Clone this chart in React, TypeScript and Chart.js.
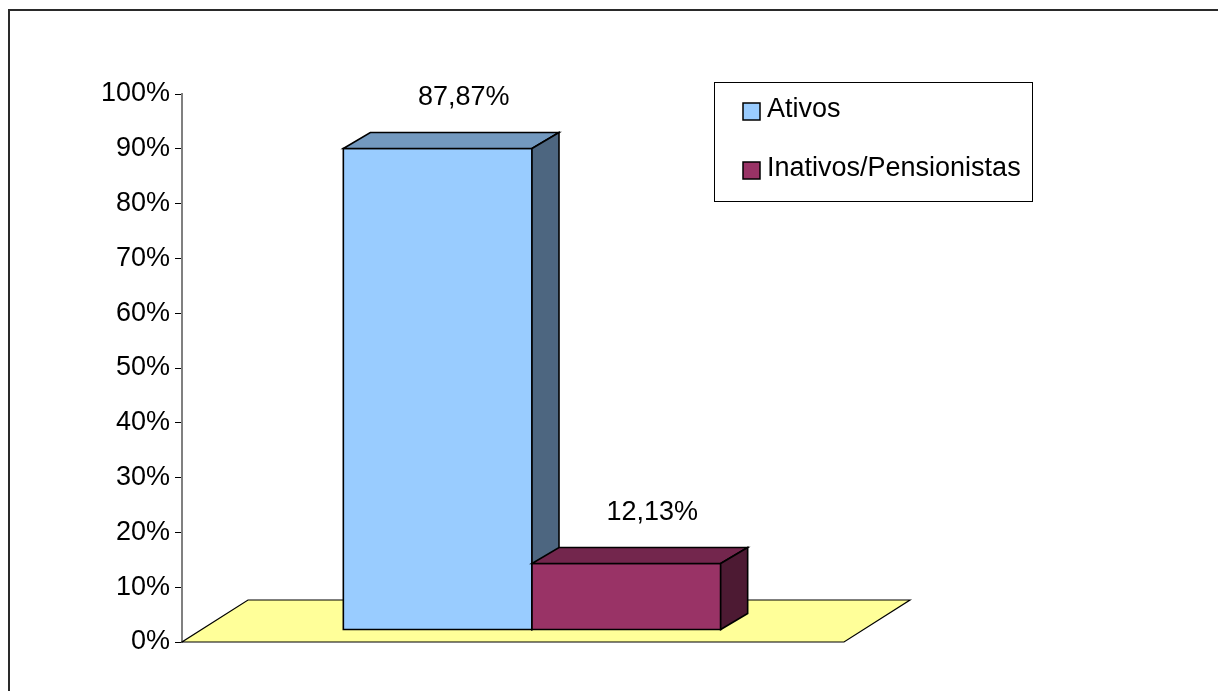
import React, { useEffect, useRef } from "react";
import { Chart, registerables } from "chart.js";

Chart.register(...registerables);

// ---- data ----
const categories: string[] = [""];
const seriesLabels: string[] = ["Ativos", "Inativos/Pensionistas"];
const ativosValues: number[] = [87.87];
const inativosValues: number[] = [12.13];
const seriesColors: string[] = ["#99CCFF", "#993366"];
const yMin = 0;
const yMax = 100;
const yStep = 10;

// ---- layout / style constants ----
const W = 1210;
const H = 683;
const FONT = '"Liberation Sans", Arial, Helvetica, sans-serif';
const FONT_SIZE = 27;
const FLOOR_DX = 66;
const FLOOR_DY = -42;
const BAR_FX = 19;
const BAR_FY = -12;
const BAR_DX = 27;
const BAR_DY = -16;

function shade(hex: string, f: number): string {
  const n = parseInt(hex.slice(1), 16);
  const r = Math.round(((n >> 16) & 255) * f);
  const g = Math.round(((n >> 8) & 255) * f);
  const b = Math.round((n & 255) * f);
  return `rgb(${r},${g},${b})`;
}

function fmt(v: number): string {
  return v.toFixed(2).replace(".", ",") + "%";
}

const excel3d = {
  id: "excel3d",
  beforeDatasetsDraw(chart: any) {
    const { ctx, chartArea, scales } = chart;
    const y0 = scales.y.getPixelForValue(0);
    ctx.save();
    // floor
    ctx.beginPath();
    ctx.moveTo(chartArea.left, y0);
    ctx.lineTo(chartArea.right, y0);
    ctx.lineTo(chartArea.right + FLOOR_DX, y0 + FLOOR_DY);
    ctx.lineTo(chartArea.left + FLOOR_DX, y0 + FLOOR_DY);
    ctx.closePath();
    ctx.fillStyle = "#FFFF99";
    ctx.fill();
    ctx.strokeStyle = "#000";
    ctx.lineWidth = 1.2;
    ctx.stroke();

    ctx.lineJoin = "miter";
    chart.data.datasets.forEach((ds: any, i: number) => {
      const meta = chart.getDatasetMeta(i);
      const color = ds.backgroundColor as string;
      meta.data.forEach((bar: any) => {
        const p = bar.getProps(["x", "y", "base", "width"], true);
        const l = p.x - p.width / 2 + BAR_FX;
        const r = p.x + p.width / 2 + BAR_FX;
        const t = p.y + BAR_FY;
        const b = p.base + BAR_FY;
        ctx.lineWidth = 1.6;
        ctx.strokeStyle = "#000";
        // front
        ctx.beginPath();
        ctx.rect(l, t, r - l, b - t);
        ctx.fillStyle = color;
        ctx.fill();
        ctx.stroke();
        // top
        ctx.beginPath();
        ctx.moveTo(l, t);
        ctx.lineTo(r, t);
        ctx.lineTo(r + BAR_DX, t + BAR_DY);
        ctx.lineTo(l + BAR_DX, t + BAR_DY);
        ctx.closePath();
        ctx.fillStyle = shade(color, 0.75);
        ctx.fill();
        ctx.stroke();
        // side
        ctx.beginPath();
        ctx.moveTo(r, t);
        ctx.lineTo(r + BAR_DX, t + BAR_DY);
        ctx.lineTo(r + BAR_DX, b + BAR_DY);
        ctx.lineTo(r, b);
        ctx.closePath();
        ctx.fillStyle = shade(color, 0.5);
        ctx.fill();
        ctx.stroke();
      });
    });
    ctx.restore();
    return false;
  },
  afterDraw(chart: any) {
    const { ctx } = chart;
    ctx.save();
    ctx.font = `${FONT_SIZE}px ${FONT}`;
    ctx.fillStyle = "#000";
    // value labels
    ctx.textAlign = "center";
    ctx.textBaseline = "middle";
    chart.data.datasets.forEach((ds: any, i: number) => {
      const meta = chart.getDatasetMeta(i);
      meta.data.forEach((bar: any, j: number) => {
        const p = bar.getProps(["x", "y"], true);
        ctx.fillText(fmt(ds.data[j]), p.x + BAR_FX + 26, p.y + BAR_FY - 51);
      });
    });

    // legend
    const lx = 706;
    const ly = 74;
    ctx.lineWidth = 1;
    ctx.strokeStyle = "#000";
    ctx.strokeRect(lx + 0.5, ly + 0.5, 318, 119);
    ctx.textAlign = "left";
    ctx.textBaseline = "alphabetic";
    chart.data.datasets.forEach((ds: any, i: number) => {
      const sy = ly + 21 + i * 59;
      ctx.fillStyle = ds.backgroundColor;
      ctx.fillRect(lx + 29, sy, 17, 17);
      ctx.lineWidth = 1.5;
      ctx.strokeStyle = "#000";
      ctx.strokeRect(lx + 29, sy, 17, 17);
      ctx.fillStyle = "#000";
      ctx.fillText(ds.label, lx + 53, sy + 14);
    });

    // outer frame (left and top edges)
    ctx.fillStyle = "#2a2a2a";
    ctx.fillRect(0, 1, 2, H);
    ctx.fillRect(0, 1, W, 2);
    ctx.restore();
  },
};

export default function App() {
  const ref = useRef<HTMLCanvasElement | null>(null);

  useEffect(() => {
    if (!ref.current) return;
    const chart = new Chart(ref.current, {
      type: "bar",
      data: {
        labels: categories,
        datasets: [
          { label: seriesLabels[0], data: ativosValues, backgroundColor: seriesColors[0] },
          { label: seriesLabels[1], data: inativosValues, backgroundColor: seriesColors[1] },
        ],
      },
      options: {
        responsive: false,
        animation: false,
        events: [],
        categoryPercentage: 0.57,
        barPercentage: 1.0,
        layout: { padding: { left: 0, right: 374, top: 86, bottom: 49 } },
        plugins: {
          legend: { display: false },
          tooltip: { enabled: false },
        },
        scales: {
          x: { type: "category", display: false, offset: true },
          y: {
            type: "linear",
            min: yMin,
            max: yMax,
            afterFit: (scale: any) => {
              scale.width = 174;
            },
            ticks: {
              stepSize: yStep,
              color: "#000",
              padding: 5,
              font: { family: FONT, size: FONT_SIZE },
              callback: (v: any) => `${v}%`,
            },
            grid: {
              drawOnChartArea: false,
              drawTicks: true,
              tickLength: 7,
              tickColor: "#000",
              tickWidth: 1,
            },
            border: { display: true, color: "#808080", width: 2 },
          },
        },
      } as any,
      plugins: [excel3d as any],
    });
    return () => chart.destroy();
  }, []);

  return (
    <canvas
      ref={ref}
      width={W}
      height={H}
      style={{ display: "block", width: W, height: H }}
    />
  );
}
